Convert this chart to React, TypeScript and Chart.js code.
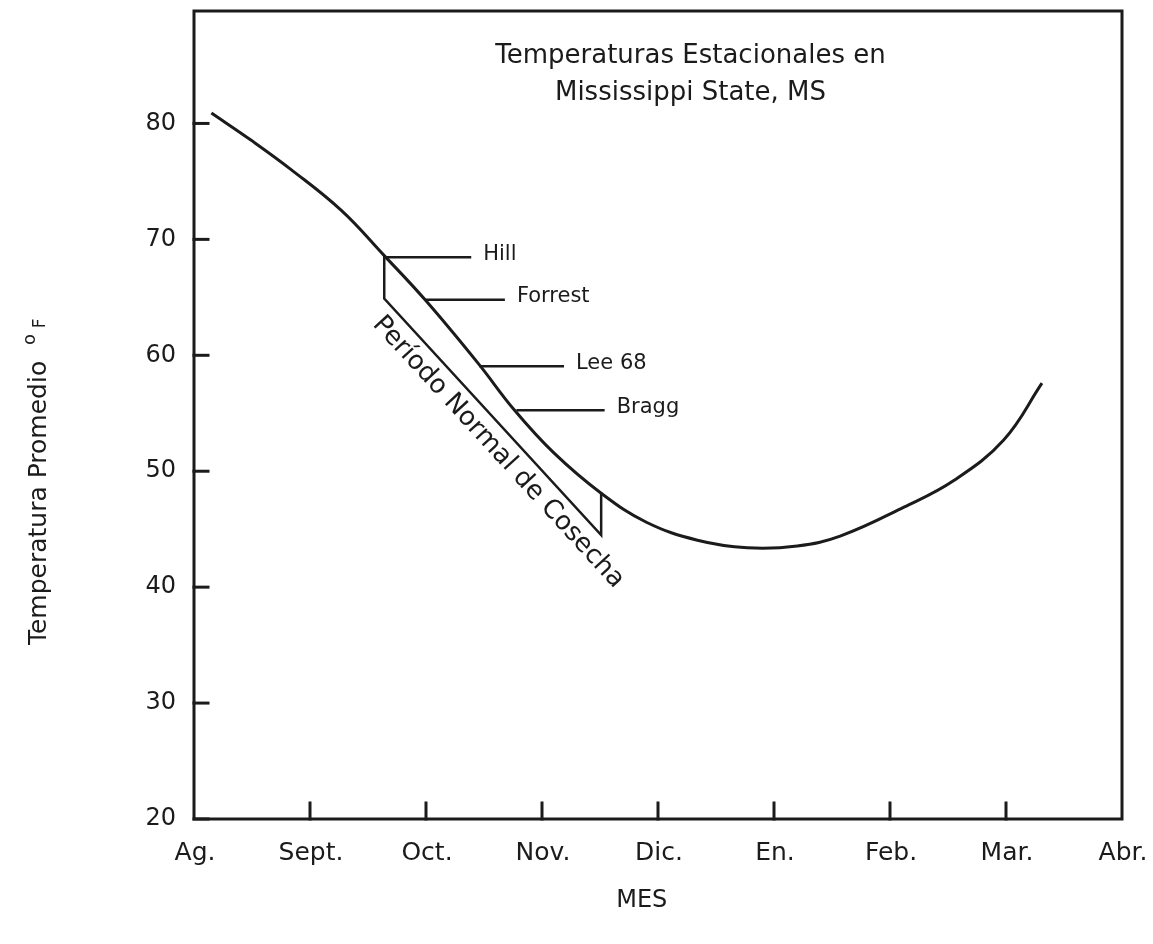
import React, { useEffect, useRef } from "react";
import { Chart, registerables } from "chart.js";

Chart.register(...registerables);

const MONTHS = ["Ag.", "Sept.", "Oct.", "Nov.", "Dic.", "En.", "Feb.", "Mar.", "Abr."];
const Y_TICKS = [20, 30, 40, 50, 60, 70, 80];
const CURVE_X = [0.15, 0.5, 0.84, 1.27, 1.64, 2.0, 2.45, 2.76, 3.1, 3.51, 3.9, 4.34, 4.77, 5.2, 5.57, 6.12, 6.55, 6.98, 7.31];
const CURVE_Y = [80.9, 78.5, 76.0, 72.5, 68.6, 64.7, 59.3, 55.3, 51.6, 48.1, 45.6, 44.05, 43.4, 43.55, 44.4, 46.9, 49.2, 52.7, 57.6];
const VARIETIES = ["Hill", "Forrest", "Lee 68", "Bragg"];
const VARIETY_Y = [68.45, 64.8, 59.05, 55.25];
const VARIETY_X_START = [1.64, 1.99, 2.46, 2.78];
const VARIETY_X_END = [2.39, 2.68, 3.19, 3.54];
const HARVEST_X = [1.64, 1.64, 3.51, 3.51];
const HARVEST_Y = [68.6, 64.9, 44.5, 48.2];
const HARVEST_LABEL = "Período Normal de Cosecha";
const TITLE_LINES = ["Temperaturas Estacionales en", "Mississippi State, MS"];
const Y_TITLE = "Temperatura Promedio";
const Y_UNIT_DEG = "o";
const Y_UNIT = "F";
const X_TITLE = "MES";

const INK = "#1b1b1b";
const FONT = "'DejaVu Sans', sans-serif";

export default function App() {
  const ref = useRef<HTMLCanvasElement | null>(null);

  useEffect(() => {
    if (!ref.current) return;

    const decor = {
      id: "decor",
      afterDraw(chart: any) {
        const { ctx, chartArea: ca, scales } = chart;
        const xs = scales.x;
        const ys = scales.y;
        ctx.save();
        ctx.strokeStyle = INK;
        ctx.fillStyle = INK;
        ctx.lineCap = "square";
        // frame
        ctx.lineWidth = 3;
        ctx.strokeRect(ca.left, ca.top, ca.right - ca.left, ca.bottom - ca.top);
        // inward y ticks
        Y_TICKS.forEach((v) => {
          const p = ys.getPixelForValue(v);
          ctx.beginPath();
          ctx.moveTo(ca.left, p);
          ctx.lineTo(ca.left + 14, p);
          ctx.stroke();
        });
        // upward x ticks
        for (let i = 1; i < MONTHS.length - 1; i++) {
          const p = xs.getPixelForValue(i);
          ctx.beginPath();
          ctx.moveTo(p, ca.bottom);
          ctx.lineTo(p, ca.bottom - 16);
          ctx.stroke();
        }
        // title
        ctx.textAlign = "center";
        ctx.textBaseline = "alphabetic";
        ctx.font = `26px ${FONT}`;
        const tx = xs.getPixelForValue(4.28);
        ctx.fillText(TITLE_LINES[0], tx, ca.top + 52);
        ctx.fillText(TITLE_LINES[1], tx, ca.top + 89);
        // variety labels
        ctx.textAlign = "left";
        ctx.textBaseline = "middle";
        ctx.font = `21px ${FONT}`;
        VARIETIES.forEach((name, i) => {
          ctx.fillText(name, xs.getPixelForValue(VARIETY_X_END[i]) + 12, ys.getPixelForValue(VARIETY_Y[i]) - 3);
        });
        // harvest label (rotated, parallel to the slanted line)
        const x1 = xs.getPixelForValue(HARVEST_X[1]);
        const y1 = ys.getPixelForValue(HARVEST_Y[1]);
        const x2 = xs.getPixelForValue(HARVEST_X[2]);
        const y2 = ys.getPixelForValue(HARVEST_Y[2]);
        const ang = Math.atan2(y2 - y1, x2 - x1);
        const mx = (x1 + x2) / 2 + Math.cos(ang) * 30;
        const my = (y1 + y2) / 2 + Math.sin(ang) * 30;
        const off = 20;
        ctx.translate(mx - Math.sin(ang) * off, my + Math.cos(ang) * off);
        ctx.rotate(ang);
        ctx.textAlign = "center";
        ctx.textBaseline = "middle";
        ctx.font = `26px ${FONT}`;
        ctx.fillText(HARVEST_LABEL, 0, 0);
        ctx.restore();

        // y title
        ctx.save();
        ctx.fillStyle = INK;
        ctx.translate(39, ys.getPixelForValue(35));
        ctx.rotate(-Math.PI / 2);
        ctx.textAlign = "left";
        ctx.textBaseline = "middle";
        ctx.font = `25px ${FONT}`;
        ctx.fillText(Y_TITLE, 0, 0);
        const w = ctx.measureText(Y_TITLE + "  ").width;
        ctx.font = `18px ${FONT}`;
        ctx.fillText(Y_UNIT_DEG, w, -9);
        const w2 = ctx.measureText(Y_UNIT_DEG + " ").width;
        ctx.font = `17px ${FONT}`;
        ctx.fillText(Y_UNIT, w + w2, 2);
        ctx.restore();

        // x title
        ctx.save();
        ctx.fillStyle = INK;
        ctx.textAlign = "center";
        ctx.textBaseline = "middle";
        ctx.font = `24px ${FONT}`;
        ctx.fillText(X_TITLE, xs.getPixelForValue(3.86), ca.bottom + 82);
        ctx.restore();
      },
    };

    const lineStyle = { borderColor: INK, pointRadius: 0, fill: false };
    const datasets: any[] = [
      {
        ...lineStyle,
        data: CURVE_X.map((x, i) => ({ x, y: CURVE_Y[i] })),
        borderWidth: 3,
        tension: 0.4,
      },
      {
        ...lineStyle,
        data: HARVEST_X.map((x, i) => ({ x, y: HARVEST_Y[i] })),
        borderWidth: 2.5,
        tension: 0,
      },
      ...VARIETIES.map((_, i) => ({
        ...lineStyle,
        data: [
          { x: VARIETY_X_START[i], y: VARIETY_Y[i] },
          { x: VARIETY_X_END[i], y: VARIETY_Y[i] },
        ],
        borderWidth: 2.5,
        tension: 0,
      })),
    ];

    const chart = new Chart(ref.current, {
      type: "line",
      data: { datasets },
      options: {
        animation: false,
        responsive: true,
        maintainAspectRatio: false,
        layout: { padding: { top: 3, right: 31, left: 0, bottom: 0 } },
        plugins: { legend: { display: false }, tooltip: { enabled: false } },
        scales: {
          x: {
            type: "linear",
            min: 0,
            max: 8,
            grid: { display: false, drawTicks: false },
            border: { display: false },
            afterBuildTicks: (s: any) => {
              s.ticks = MONTHS.map((_, i) => ({ value: i }));
            },
            afterFit: (s: any) => {
              s.height = 117;
              s.paddingLeft = 0;
              s.paddingRight = 0;
            },
            ticks: {
              color: INK,
              padding: 19,
              labelOffset: 1,
              maxRotation: 0,
              autoSkip: false,
              font: { family: FONT, size: 25 },
              callback: (v: any) => MONTHS[Math.round(Number(v))],
            },
          },
          y: {
            type: "linear",
            min: 20,
            max: 89.7,
            grid: { display: false, drawTicks: false },
            border: { display: false },
            afterBuildTicks: (s: any) => {
              s.ticks = Y_TICKS.map((v) => ({ value: v }));
            },
            afterFit: (s: any) => {
              s.width = 194;
              s.paddingTop = 0;
              s.paddingBottom = 0;
            },
            ticks: {
              color: INK,
              padding: 18,
              font: { family: FONT, size: 24 },
              callback: (v: any) => String(v),
            },
          },
        },
      },
      plugins: [decor],
    });

    return () => chart.destroy();
  }, []);

  return (
    <div style={{ width: 1153, height: 928, marginLeft: -8, position: "relative", background: "#fff" }}>
      <canvas ref={ref} style={{ display: "block" }} />
    </div>
  );
}
